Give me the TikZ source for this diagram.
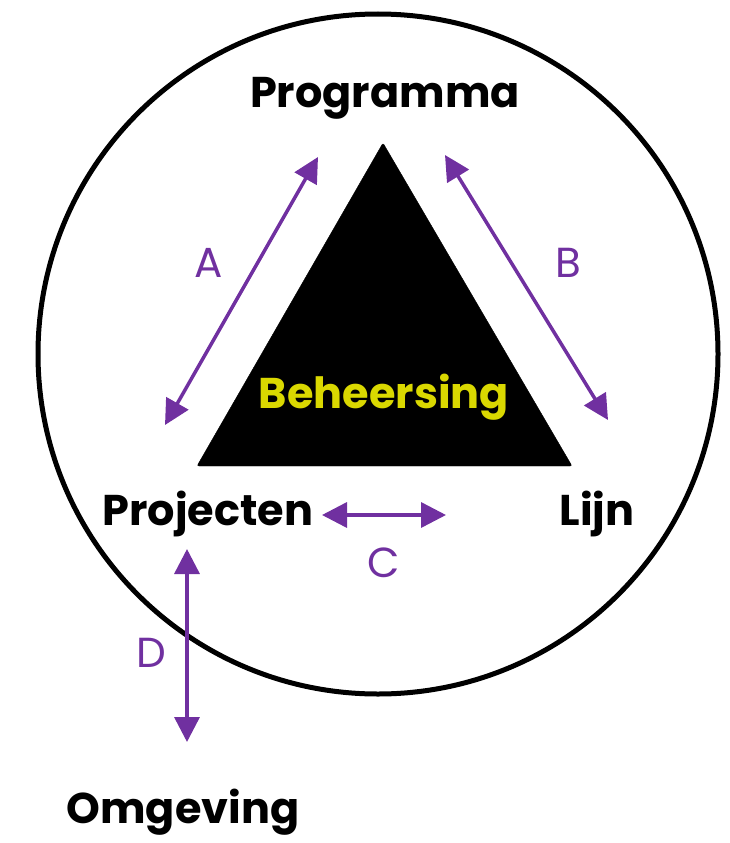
\documentclass[tikz,border=0pt]{standalone}
\usepackage{fontspec}
\setmainfont{Poppins}
\usetikzlibrary{arrows.meta}
\definecolor{myPurple}{RGB}{112,48,160}
\definecolor{myYellow}{RGB}{218,216,0}

\begin{document}
\begin{tikzpicture}[%
	x=1pt,y=-1pt,
	every node/.style={
		font=\fontsize{42}{50}\selectfont,
		inner sep=0pt,
		anchor=base,
	},
	party/.style={font=\fontsize{43}{50}\selectfont\bfseries},
	letter/.style={text=myPurple},
	link/.style={
		myPurple, line width=3.5pt,
		{Triangle[length=25pt,width=25pt]}-{Triangle[length=25pt,width=25pt]},
	},
	]
	\useasboundingbox (0,0) rectangle (730,843);
	
	% draw outer circle
	\draw[line width=5pt] (378,354) circle[radius=340pt];
	
	% draw triangle
	\filldraw[rounded corners=2pt] (383,143) -- (572,466) -- (197,466) -- cycle;
	\node[party, text=myYellow] (beh) at (384,408) {Beheersing};
	
	% place parties
	\node[party] (prog) at (385,107) {Programma};
	\node[party] (proj) at (208,525) {Projecten};
	\node[party] (lijn) at (597,525) {Lijn};
	\node[party] (omg) at (183,823) {Omgeving};
	
	% arrow ends
	\coordinate (a1) at (318,157);
	\coordinate (a2) at (165,425);
	\coordinate (b1) at (445,155);
	\coordinate (b2) at (608,420);
	\coordinate (c1) at (322,515);
	\coordinate (c2) at (446,515);
	\coordinate (d1) at (187,549);
	\coordinate (d2) at (187,742);
	
	% draw relations
	\draw[link] (a1) -- (a2);
	\draw[link] (b1) -- (b2);
	\draw[link] (c1) -- (c2);
	\draw[link] (d1) -- (d2);
	
	% place relation labels
	\node[letter] (la) at (209,277) {A};
	\node[letter] (lb) at (568,277) {B};
	\node[letter] (lc) at (384,577) {C};
	\node[letter] (ld) at (151,667) {D};
\end{tikzpicture}
\end{document}
